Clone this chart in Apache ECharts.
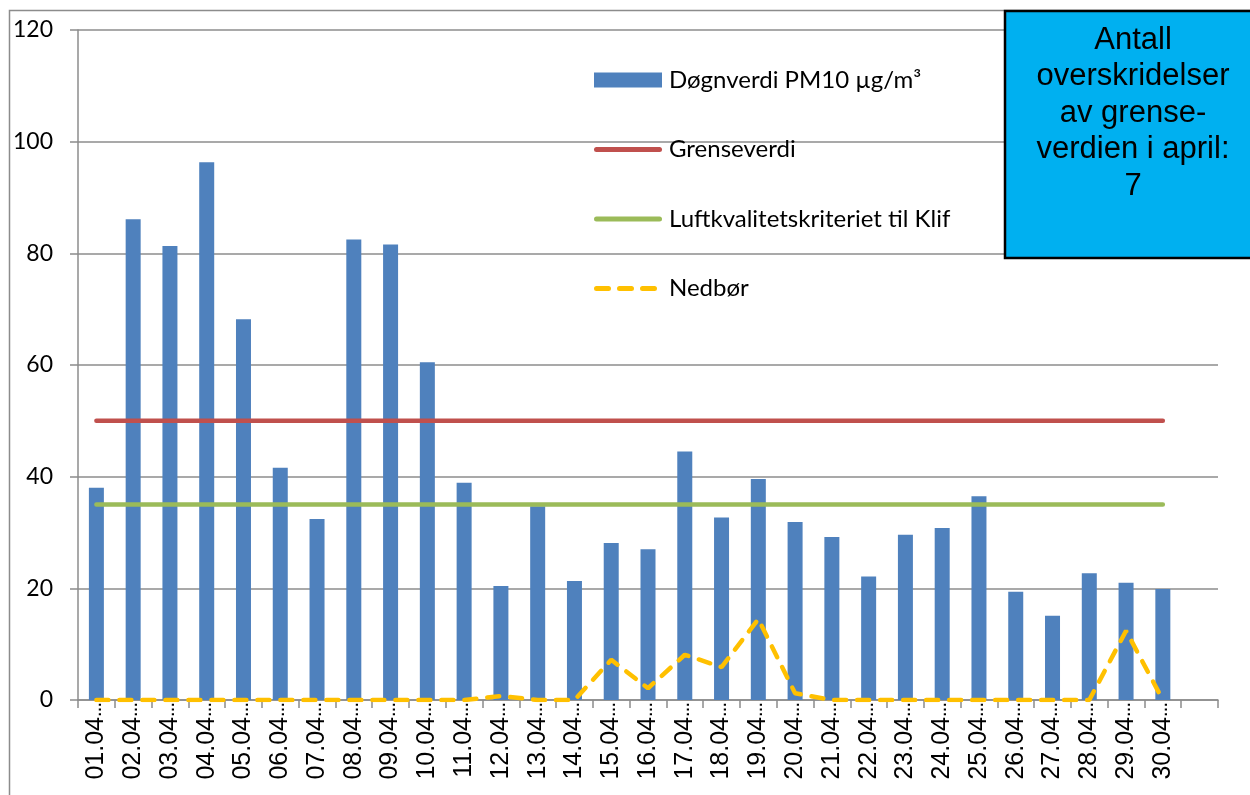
<!DOCTYPE html>
<html>
<head>
<meta charset="utf-8">
<script src="https://cdn.jsdelivr.net/npm/echarts@6/dist/echarts.min.js"></script>
<style>
html,body{margin:0;padding:0;background:#fff;}
#c{width:1250px;height:795px;}
</style>
</head>
<body>
<div id="c"></div>
<script>
var categories = ['01.04','02.04','03.04','04.04','05.04','06.04','07.04','08.04','09.04','10.04',
  '11.04','12.04','13.04','14.04','15.04','16.04','17.04','18.04','19.04','20.04',
  '21.04','22.04','23.04','24.04','25.04','26.04','27.04','28.04','29.04','30.04',''];
var pm10 = [38.0, 86.1, 81.3, 96.3, 68.2, 41.6, 32.4, 82.5, 81.6, 60.5,
  38.9, 20.4, 34.7, 21.3, 28.1, 27.0, 44.5, 32.7, 39.6, 31.9,
  29.2, 22.1, 29.6, 30.8, 36.5, 19.4, 15.1, 22.7, 21.0, 19.9];
var grenseverdi = [50,50,50,50,50,50,50,50,50,50,50,50,50,50,50,50,50,50,50,50,50,50,50,50,50,50,50,50,50,50];
var klif = [35,35,35,35,35,35,35,35,35,35,35,35,35,35,35,35,35,35,35,35,35,35,35,35,35,35,35,35,35,35];
var nedbor = [0,0,0,0,0,0,0,0,0,0,
  0,0.7,0,0,7.2,2.1,8.1,5.9,14.5,1.2,
  0,0,0,0,0,0,0,0,12.4,0];
var yTicks = {min:0, max:120, interval:20};
var boxLines = ['Antall','overskridelser','av grense-','verdien i april:','7'];

var chart = echarts.init(document.getElementById('c'));
chart.setOption({
  animation:false,
  backgroundColor:'#ffffff',
  grid:{left:78, right:32, top:30, bottom:95, containLabel:false},
  legend:{
    orient:'vertical', left:589, top:63, itemGap:45.5,
    itemWidth:68, itemHeight:15,
    textStyle:{fontFamily:'Lato, "Open Sans", sans-serif', fontSize:24, lineHeight:20, color:'#000', padding:[0,0,0,2]},
    data:[
      {name:'Døgnverdi PM10 µg/m³', icon:'rect'},
      {name:'Grenseverdi', icon:'path://M2.5,0h63a2.5,2.5 0 0 1 0,5h-63a2.5,2.5 0 0 1 0,-5z', itemHeight:5},
      {name:'Luftkvalitetskriteriet til Klif', icon:'path://M2.5,0h63a2.5,2.5 0 0 1 0,5h-63a2.5,2.5 0 0 1 0,-5z', itemHeight:5},
      {name:'Nedbør', icon:'path://M2.5,0h12a2.5,2.5 0 0 1 0,5h-12a2.5,2.5 0 0 1 0,-5z M25.5,0h12a2.5,2.5 0 0 1 0,5h-12a2.5,2.5 0 0 1 0,-5z M48.5,0h12a2.5,2.5 0 0 1 0,5h-12a2.5,2.5 0 0 1 0,-5z M68,0h0v5h0z', itemHeight:5}
    ]
  },
  xAxis:{
    type:'category', data:categories, boundaryGap:true,
    axisLine:{lineStyle:{color:'#8c8c8c', width:1.5}},
    axisTick:{show:true, length:8, alignWithLabel:false, lineStyle:{color:'#8c8c8c', width:1.5}},
    axisLabel:{rotate:90, interval:0, margin:2, color:'#000',
      fontFamily:'"Liberation Sans", Arial, sans-serif', fontSize:25,
      formatter:function(v){ return v ? v + '{e|…}' : ''; },
      rich:{e:{fontFamily:'"Liberation Sans", Arial, sans-serif', fontSize:15, fontWeight:'bold', color:'#000'}}
    },
    splitLine:{show:false}
  },
  yAxis:{
    type:'value', min:yTicks.min, max:yTicks.max, interval:yTicks.interval,
    axisLine:{show:true, lineStyle:{color:'#8c8c8c', width:1.5}},
    axisTick:{show:true, length:8, lineStyle:{color:'#8c8c8c', width:1.5}},
    axisLabel:{margin:25, fontFamily:'Lato, "Open Sans", sans-serif', fontSize:23, color:'#000'},
    splitLine:{show:true, lineStyle:{color:'#8c8c8c', width:1.5}}
  },
  series:[
    {name:'Døgnverdi PM10 µg/m³', type:'bar', data:pm10, barWidth:15,
      itemStyle:{color:'#4F81BD'}, z:2},
    {name:'Grenseverdi', type:'line', data:grenseverdi, symbol:'none',
      lineStyle:{color:'#C0504D', width:4.5, cap:'round'}, itemStyle:{color:'#C0504D'}, z:3},
    {name:'Luftkvalitetskriteriet til Klif', type:'line', data:klif, symbol:'none',
      lineStyle:{color:'#9BBB59', width:4.5, cap:'round'}, itemStyle:{color:'#9BBB59'}, z:3},
    {name:'Nedbør', type:'line', data:nedbor, symbol:'none',
      lineStyle:{color:'#FFC000', width:4.5, type:[12,11], cap:'round'}, itemStyle:{color:'#FFC000'}, z:4}
  ],
  graphic:[
    {type:'rect', z:-10, silent:true, shape:{x:9.5, y:10.5, width:1400, height:1000},
      style:{fill:'none', stroke:'#8c8c8c', lineWidth:1.5}},
    {type:'rect', z:100, zlevel:1, silent:true, shape:{x:1005, y:11, width:320, height:247},
      style:{fill:'#00B0F0', stroke:'#000', lineWidth:2.5}},
    {type:'text', z:101, zlevel:1, silent:true, x:1133, y:22,
      style:{text:boxLines.join('\n'), textAlign:'center', textVerticalAlign:'top',
        font:'31px "Liberation Sans", Arial, sans-serif', lineHeight:36.5, fill:'#000'}}
  ]
});
</script>
</body>
</html>
